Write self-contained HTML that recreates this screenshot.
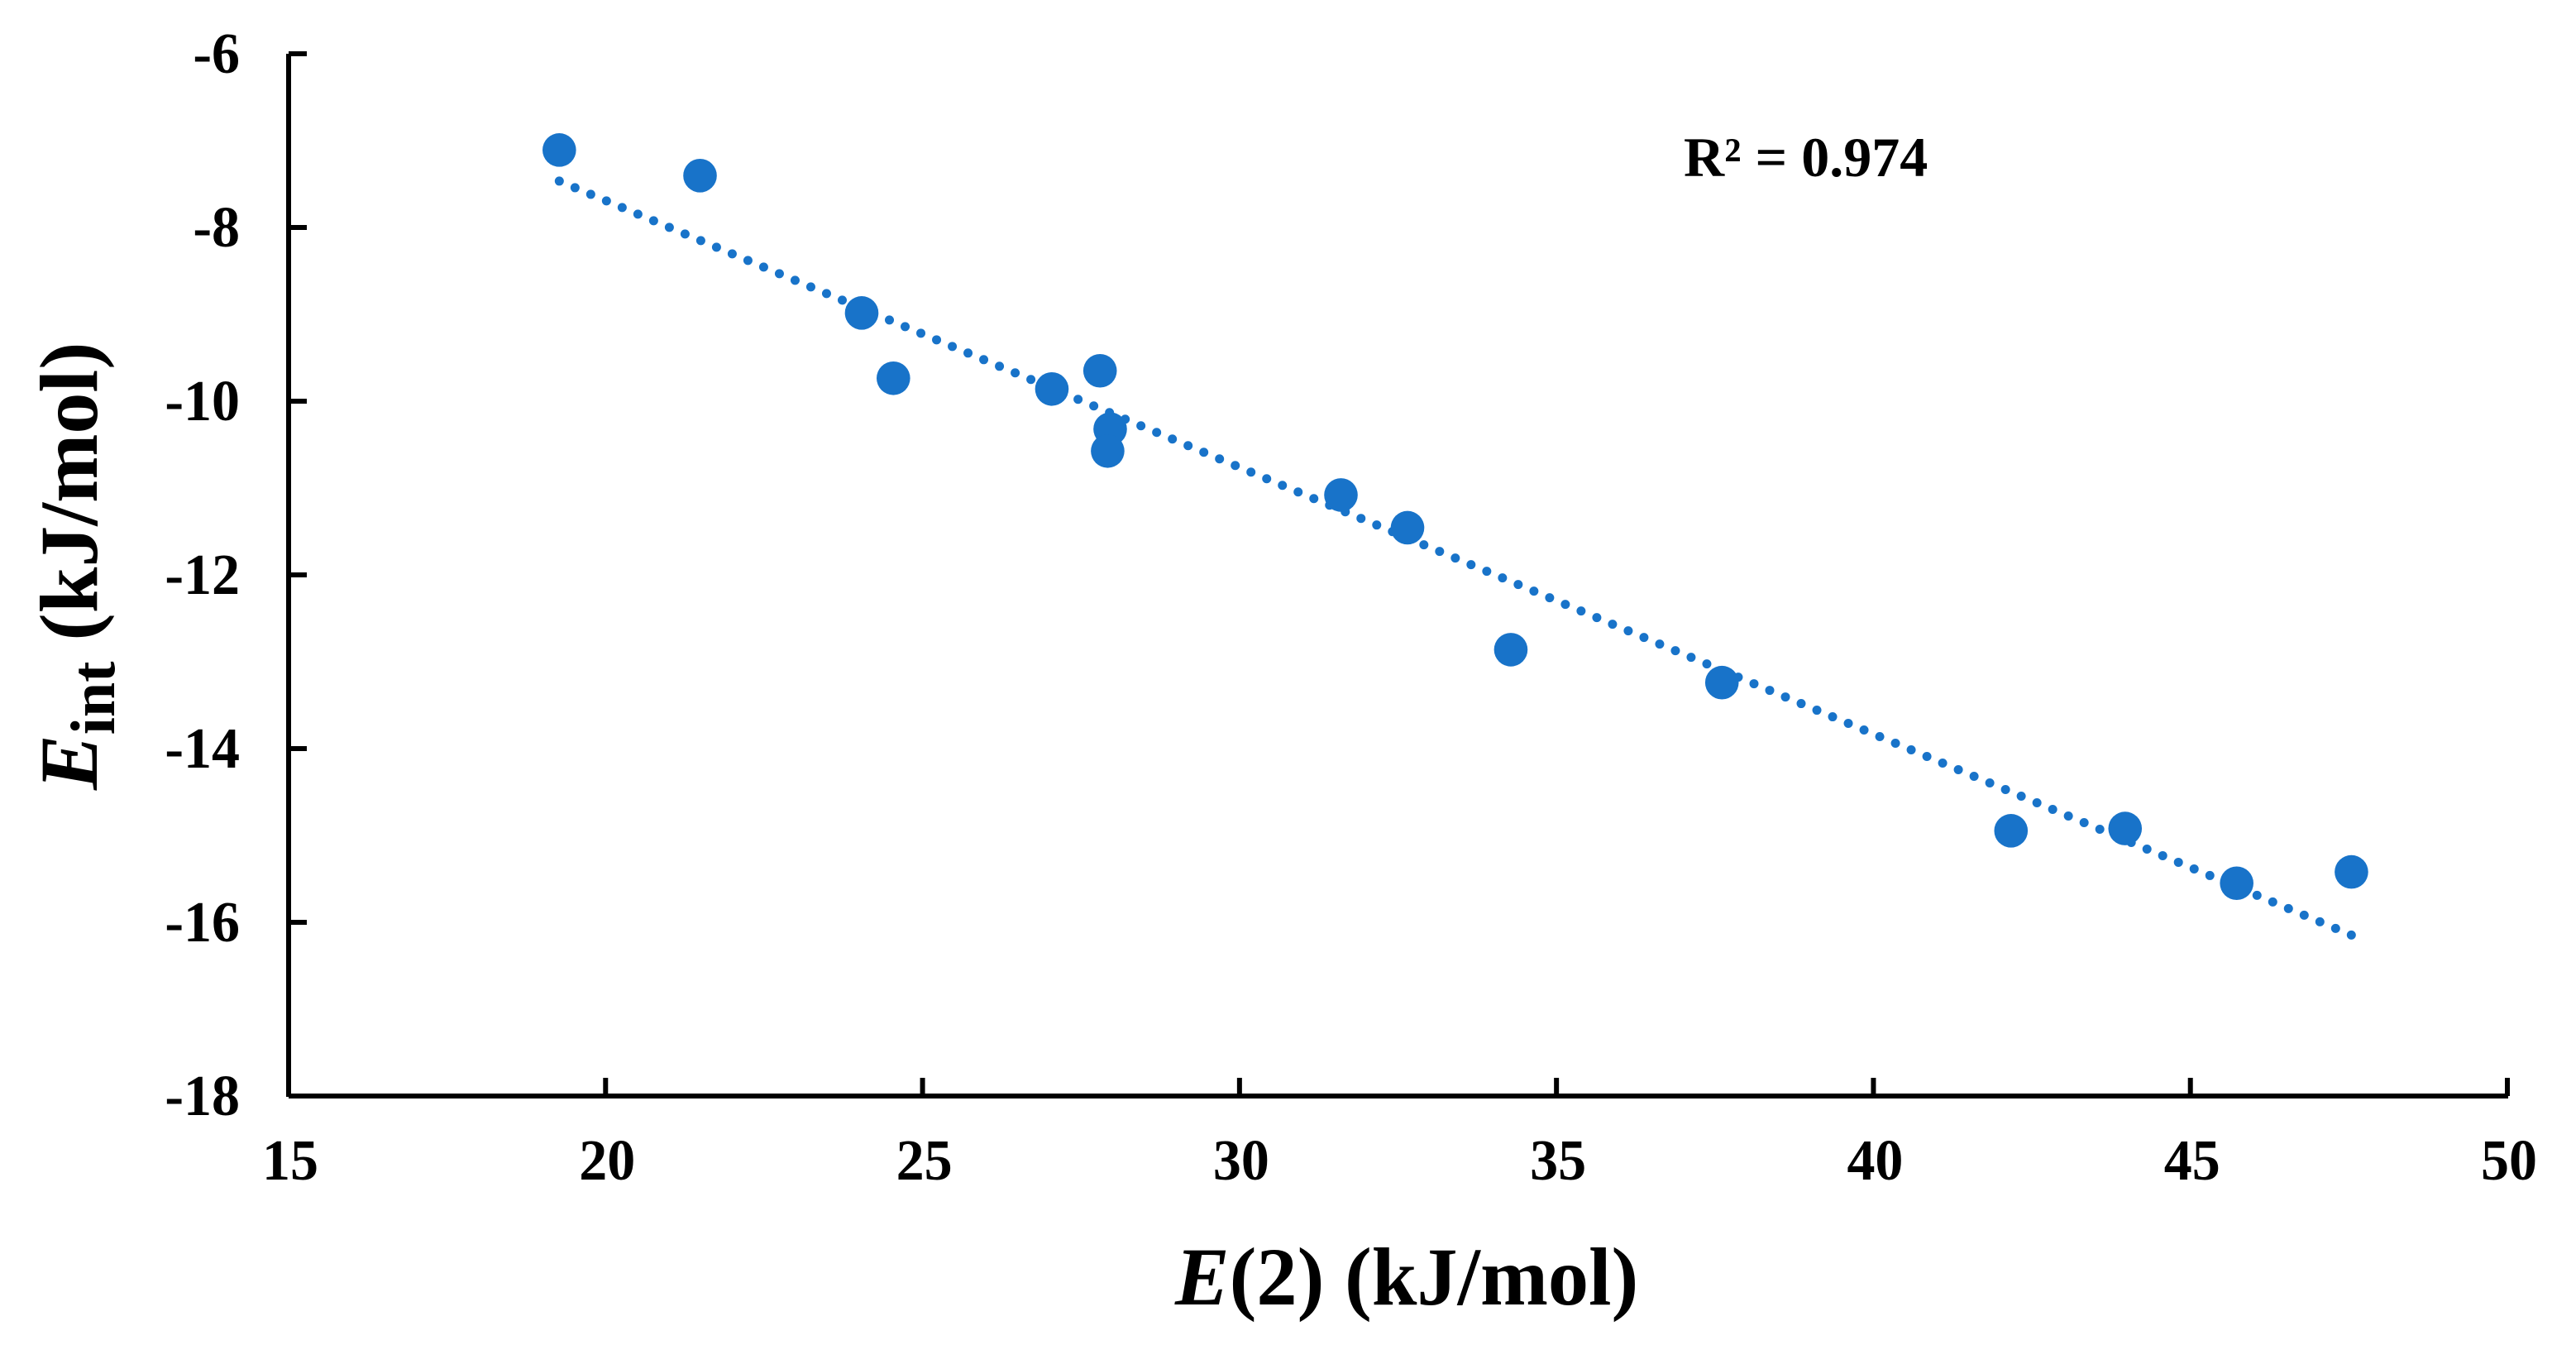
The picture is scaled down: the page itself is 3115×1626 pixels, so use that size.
<!DOCTYPE html>
<html lang="en">
<head>
<meta charset="utf-8">
<title>E(2) vs Eint scatter chart</title>
<style>
html,body{margin:0;padding:0;background:#fff;}
svg{display:block;}
text{font-family:"Liberation Serif",serif;font-weight:bold;fill:#000;}
</style>
</head>
<body>
<svg id="chart" xmlns="http://www.w3.org/2000/svg" width="3115" height="1626" viewBox="0 0 3115 1626">
  <rect x="0" y="0" width="3115" height="1626" fill="#ffffff"/>
  <g id="axes"></g>
  <g id="trend"></g>
  <g id="points"></g>
  <text x="2036" y="213" font-size="68">R² = 0.974</text>
  <text transform="translate(1421,1577) scale(0.984,1)" x="0" y="0" font-size="100"><tspan font-style="italic">E</tspan>(2) (kJ/mol)</text>
  <text transform="translate(117,955) rotate(-90)" font-size="100"><tspan font-style="italic">E</tspan><tspan font-size="76" dy="21">int</tspan><tspan dy="-21"> (kJ/mol)</tspan></text>
</svg>
<script>
const xValues = [19.27, 21.49, 24.04, 24.54, 27.04, 27.80, 27.96, 27.92, 31.60, 32.65, 34.28, 37.61, 42.17, 43.97, 45.73, 47.54];
const yValues = [-7.108, -7.403, -8.984, -9.736, -9.860, -9.650, -10.321, -10.574, -11.08, -11.457, -12.861, -13.24, -14.946, -14.92, -15.55, -15.42];
const xTickLabels = [15, 20, 25, 30, 35, 40, 45, 50];
const yTickLabels = [-6, -8, -10, -12, -14, -16, -18];

const NS = 'http://www.w3.org/2000/svg';
const PLOT = { left: 349, right: 3032, top: 65, bottom: 1325 };
const xMin = xTickLabels[0];
const xMax = xTickLabels[xTickLabels.length - 1];
const yMax = yTickLabels[0];
const yMin = yTickLabels[yTickLabels.length - 1];
function xScale(v) { return PLOT.left + (v - xMin) / (xMax - xMin) * (PLOT.right - PLOT.left); }
function yScale(v) { return PLOT.top + (yMax - v) / (yMax - yMin) * (PLOT.bottom - PLOT.top); }
function make(tag, parent, attrs) {
  const el = document.createElementNS(NS, tag);
  Object.keys(attrs).forEach(function (k) { el.setAttribute(k, attrs[k]); });
  parent.appendChild(el);
  return el;
}
const INK = '#000000';
const BLUE = '#1873c9';
const axes = document.getElementById('axes');

const yAxisLine = make('line', axes, { x1: PLOT.left, y1: PLOT.top, x2: PLOT.left, y2: PLOT.bottom + 1, stroke: INK, 'stroke-width': 6 });



const xAxisLine = make('line', axes, { x1: PLOT.left, y1: PLOT.bottom, x2: PLOT.right + 1, y2: PLOT.bottom, stroke: INK, 'stroke-width': 6 });



xTickLabels.forEach(function (t) {
  const x = xScale(t);
  if (t !== xMin) {
    const tick = make('line', axes, { x1: x, y1: PLOT.bottom - 22, x2: x, y2: PLOT.bottom, stroke: INK, 'stroke-width': 6 });
    
    
  }
  const label = make('text', axes, { transform: 'translate(' + (x + 2) + ',1426) scale(1,1.03)', 'font-size': 68, 'text-anchor': 'middle' });
  label.textContent = t;
  
  
});

yTickLabels.forEach(function (t) {
  const y = yScale(t);
  if (t !== yMin) {
    const tick = make('line', axes, { x1: PLOT.left, y1: y, x2: PLOT.left + 22, y2: y, stroke: INK, 'stroke-width': 6 });
    
    
  }
  const label = make('text', axes, { transform: 'translate(290,' + (y + 23) + ') scale(1,1.03)', 'font-size': 68, 'text-anchor': 'end' });
  label.textContent = t;
  
  
});

// Linear least-squares trendline over the plotted data
const n = xValues.length;
const meanX = xValues.reduce(function (a, b) { return a + b; }, 0) / n;
const meanY = yValues.reduce(function (a, b) { return a + b; }, 0) / n;
let sxy = 0, sxx = 0;
for (let i = 0; i < n; i++) {
  sxy += (xValues[i] - meanX) * (yValues[i] - meanY);
  sxx += (xValues[i] - meanX) * (xValues[i] - meanX);
}
const slope = sxy / sxx;
const startX = Math.min.apply(null, xValues);
const endX = Math.max.apply(null, xValues);
const tx1 = xScale(startX);
const ty1 = yScale(meanY + slope * (startX - meanX));
const tx2 = xScale(endX);
const ty2 = yScale(meanY + slope * (endX - meanX));
const trendLength = Math.hypot(tx2 - tx1, ty2 - ty1);
const dotGap = trendLength / Math.round(trendLength / 20.6) - 0.001;
const trendline = make('line', document.getElementById('trend'), {
  x1: tx1, y1: ty1, x2: tx2, y2: ty2,
  stroke: BLUE, 'stroke-width': 11, 'stroke-linecap': 'round', 'stroke-dasharray': '0 ' + dotGap
});



const pointsGroup = document.getElementById('points');
xValues.forEach(function (xv, i) {
  const pt = make('circle', pointsGroup, { cx: xScale(xv), cy: yScale(yValues[i]), r: 20.3, fill: BLUE });
  
  
});
</script>
</body>
</html>
